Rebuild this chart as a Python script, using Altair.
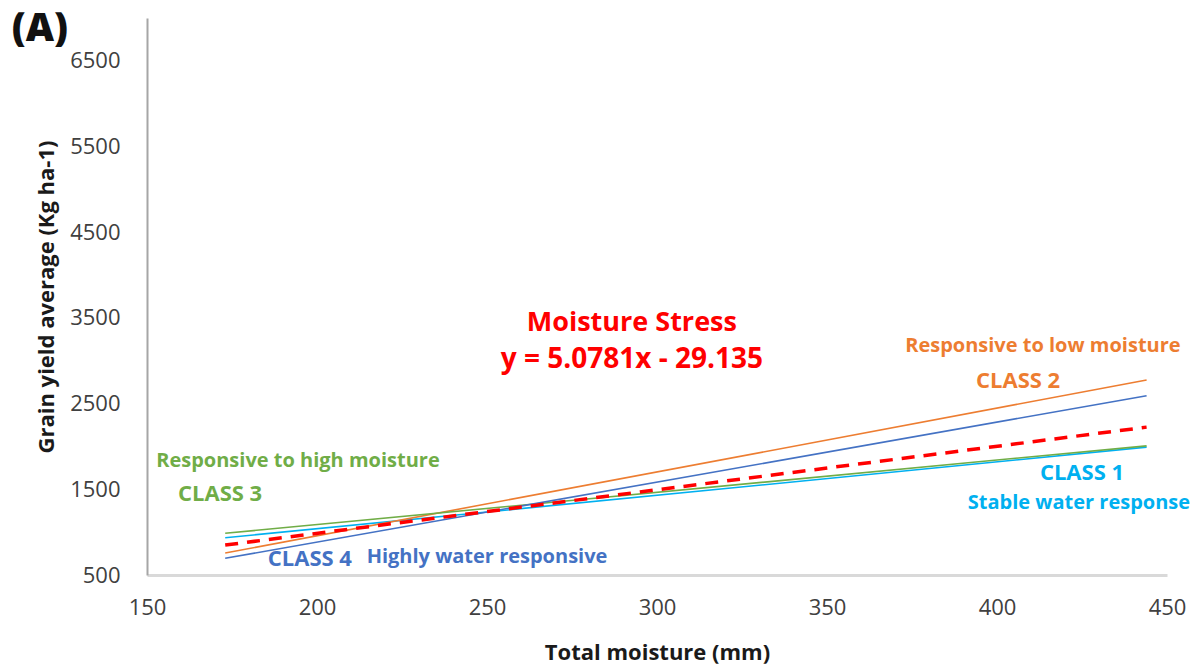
import altair as alt
import pandas as pd

# Regression lines of grain yield against total moisture, per response class
moisture_range = [173, 444]
class_names = ["CLASS 1", "CLASS 2", "CLASS 3", "CLASS 4"]
class_colors = ["#00B0F0", "#ED7D31", "#70AD47", "#4472C4"]
class_start = [935, 757, 987, 695]
class_end = [1992, 2775, 2007, 2592]

# Overall moisture-stress fit
stress_slope = 5.0781
stress_intercept = -29.135

# Text labels (data coordinates)
label_text = [
    "Moisture Stress",
    "y = 5.0781x - 29.135",
    "Responsive to low moisture",
    "CLASS 2",
    "CLASS 1",
    "Stable water response",
    "Responsive to high moisture",
    "CLASS 3",
    "CLASS 4",
    "Highly water responsive",
]
label_x = [292.6, 292.6, 413.5, 406.2, 425.0, 424.1, 194.4, 171.5, 197.9, 250.0]
label_y = [3441, 3009, 3172, 2764, 1690, 1345, 1830, 1445, 687, 710]
label_color = ["#FF0000", "#FF0000", "#ED7D31", "#ED7D31", "#00B0F0", "#00B0F0",
               "#70AD47", "#70AD47", "#4472C4", "#4472C4"]
label_size = [27, 28, 20, 22, 22, 20, 20, 22, 22, 20]

FONT = "Open Sans"

rows = []
for name, color, y0, y1 in zip(class_names, class_colors, class_start, class_end):
    rows.append({"cls": name, "x": moisture_range[0], "y": y0, "color": color})
    rows.append({"cls": name, "x": moisture_range[1], "y": y1, "color": color})
lines_df = pd.DataFrame(rows)

stress_df = pd.DataFrame({
    "x": moisture_range,
    "y": [stress_slope * v + stress_intercept for v in moisture_range],
})

labels_df = pd.DataFrame({
    "text": label_text, "x": label_x, "y": label_y,
    "color": label_color, "size": label_size,
})

xscale = alt.Scale(domain=[150, 450], nice=False, zero=False)
yscale = alt.Scale(domain=[500, 7000], nice=False, zero=False)

x_axis = alt.Axis(
    title="Total moisture (mm)", values=[150, 200, 250, 300, 350, 400, 450],
    format="d",
    grid=False, ticks=False, domainColor="#D9D9D9", domainWidth=3,
    labelFont=FONT, labelFontSize=22, labelColor="#404040", labelPadding=22,
    titleFont=FONT, titleFontSize=22, titleFontWeight="bold", titleColor="#1a1a1a",
    titlePadding=24, labelFlush=False,
)
y_axis = alt.Axis(
    title="Grain yield average (Kg ha-1)",
    values=[500, 1500, 2500, 3500, 4500, 5500, 6500],
    format="d",
    grid=False, ticks=False, domainColor="#A6A6A6", domainWidth=2,
    labelFont=FONT, labelFontSize=22, labelColor="#404040", labelPadding=27,
    titleFont=FONT, titleFontSize=22, titleFontWeight="bold", titleColor="#1a1a1a",
    titlePadding=11, labelFlush=False,
)

class_lines = alt.Chart(lines_df).mark_line(strokeWidth=1.6).encode(
    x=alt.X("x:Q", scale=xscale, axis=x_axis),
    y=alt.Y("y:Q", scale=yscale, axis=y_axis),
    detail="cls:N",
    color=alt.Color("color:N", scale=None),
)

stress_line = alt.Chart(stress_df).mark_line(
    color="#FF0000", strokeWidth=3.5, strokeDash=[13, 9]
).encode(x=alt.X("x:Q", scale=xscale), y=alt.Y("y:Q", scale=yscale))

labels = alt.Chart(labels_df).mark_text(
    font=FONT, fontWeight="bold", align="center", baseline="middle"
).encode(
    x=alt.X("x:Q", scale=xscale),
    y=alt.Y("y:Q", scale=yscale),
    text="text:N",
    color=alt.Color("color:N", scale=None),
    size=alt.Size("size:Q", scale=None),
)

panel_tag = alt.Chart(pd.DataFrame({"text": ["(A)"], "x": [118.5], "y": [6871]})).mark_text(
    font=FONT, fontWeight=800, fontSize=39, align="center", baseline="middle",
    color="#111111",
).encode(x=alt.X("x:Q", scale=xscale), y=alt.Y("y:Q", scale=yscale), text="text:N")

chart = alt.layer(class_lines, stress_line, labels, panel_tag).properties(
    width=1020, height=557,
    padding={"left": 147, "top": 18, "right": 25, "bottom": 93},
    autosize=alt.AutoSizeParams(type="none"),
    background="white",
).configure_view(stroke=None)

chart.save("out.html", embed_options={"renderer": "svg", "actions": False})
